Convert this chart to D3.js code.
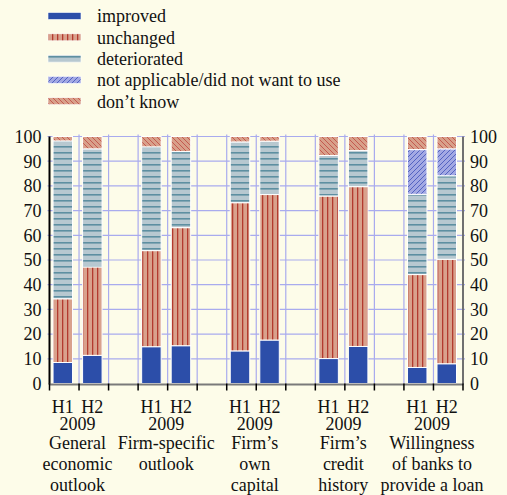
<!DOCTYPE html>
<html><head><meta charset="utf-8">
<script src="https://cdn.jsdelivr.net/npm/d3@7"></script>
<style>
html,body{margin:0;padding:0;background:#fdfce9;}
svg{display:block;font-family:"Liberation Serif","Times New Roman",serif;}
</style></head>
<body><svg id="chart" width="507" height="495"></svg>
<script>
// ---- data ----
const categories = [
  ["General","economic","outlook"],
  ["Firm-specific","outlook"],
  ["Firm’s","own","capital"],
  ["Firm’s","credit","history"],
  ["Willingness","of banks to","provide a loan"]
];
const periods = ["H1","H2"];
const yearLabel = "2009";
const seriesNames = ["improved","unchanged","deteriorated","not applicable/did not want to use","don’t know"];
const improved      = [8.5, 11.4, 14.9, 15.3, 13.2, 17.6, 10.1, 15.0, 6.5, 8.0];
const unchanged     = [25.8, 35.8, 38.9, 47.8, 60.0, 58.9, 65.8, 64.7, 37.6, 42.3];
const deteriorated  = [63.9, 47.8, 42.0, 30.8, 24.6, 21.6, 16.4, 14.6, 32.5, 33.8];
const notApplicable = [0, 0, 0, 0, 0, 0, 0, 0, 18.1, 10.9];
const dontKnow      = [1.8, 5.0, 4.2, 6.1, 2.2, 1.9, 7.7, 5.7, 5.3, 5.0];
const yTicks = [0,10,20,30,40,50,60,70,80,90,100];

// ---- build table ----
const keys = ["improved","unchanged","deteriorated","na","dk"];
const rows = improved.map((v,i)=>({
  g: Math.floor(i/2), p: i%2, slot: Math.floor(i/2)*3 + (i%2),
  improved: v, unchanged: unchanged[i], deteriorated: deteriorated[i],
  na: notApplicable[i], dk: dontKnow[i]
}));
const stacked = d3.stack().keys(keys)(rows);

const svg = d3.select("#chart");
const defs = svg.append("defs");
const fills = {};
function pat(id, w, h, bg, draw){
  const p = defs.append("pattern").attr("id",id).attr("patternUnits","userSpaceOnUse")
    .attr("width",w).attr("height",h);
  p.append("rect").attr("width",w).attr("height",h).attr("fill",bg);
  draw(p);
  return `url(#${id})`;
}
fills.improved = "#2c4ea9";
fills.unchanged = pat("pU",5,5,"#d9a18c",p=>p.append("rect").attr("x",2).attr("y",0).attr("width",1.3).attr("height",5).attr("fill","#b33a2e"));
fills.deteriorated = pat("pD",6,6,"#b7c8d0",p=>p.append("rect").attr("x",0).attr("y",2).attr("width",6).attr("height",1.6).attr("fill","#5d8fa1"));
fills.na = pat("pN",5,5,"#a3a9e3",p=>{
  p.append("path").attr("d","M-1,6 L6,-1 M-1,1 L1,-1 M4,6 L6,4").attr("stroke","#4a5bbd").attr("stroke-width",0.9);
});
fills.dk = pat("pK",5,5,"#d8a08a",p=>{
  p.append("path").attr("d","M-1,-1 L6,6 M-1,4 L1,6 M4,-1 L6,1").attr("stroke","#c2524a").attr("stroke-width",0.9);
});

// ---- scales ----
const x = d3.scaleBand().domain(d3.range(14)).range([49.5,463]).padding(0);
const bw = x.bandwidth();
const y = d3.scaleLinear().domain([0,100]).range([383.5,136.5]);
const gridColor = "#a9abee";

// horizontal gridlines
svg.append("g").selectAll("line").data(yTicks.slice(1)).join("line")
  .attr("x1",x.range()[0]-2).attr("x2",x.range()[1]+2)
  .attr("y1",d=>y(d)).attr("y2",d=>y(d))
  .attr("stroke",gridColor).attr("stroke-width",1.2);
// vertical gridlines
svg.append("g").selectAll("line").data(d3.range(1,14)).join("line")
  .attr("x1",d=>x(d)).attr("x2",d=>x(d))
  .attr("y1",y(100)-2).attr("y2",y(0))
  .attr("stroke",gridColor).attr("stroke-width",1.2);

// bars
const barOff = bw*0.12, barW = bw*0.66;
stacked.forEach(layer=>{
  svg.append("g").selectAll("rect").data(layer.filter(d=>d[1]-d[0]>0)).join("rect")
    .attr("x",d=>x(d.data.slot)+barOff)
    .attr("width",barW)
    .attr("y",d=>y(d[1]))
    .attr("height",d=>y(d[0])-y(d[1]))
    .attr("fill",fills[layer.key])
    .attr("stroke","#fff").attr("stroke-width",1);
});

// left axis
svg.append("line").attr("x1",x.range()[0]).attr("x2",x.range()[0])
  .attr("y1",y(100)).attr("y2",y(0)+1).attr("stroke","#000").attr("stroke-width",2);
// right axis
svg.append("line").attr("x1",x.range()[1]).attr("x2",x.range()[1])
  .attr("y1",y(100)).attr("y2",y(0)+1).attr("stroke","#707070").attr("stroke-width",2);
// bottom axis
svg.append("line").attr("x1",x.range()[0]).attr("x2",x.range()[1])
  .attr("y1",y(0)+1).attr("y2",y(0)+1).attr("stroke","#7a7a7a").attr("stroke-width",2);
svg.append("g").selectAll("line").data(d3.range(0,15)).join("line")
  .attr("x1",d=>x.range()[0]+d*bw).attr("x2",d=>x.range()[0]+d*bw)
  .attr("y1",y(0)).attr("y2",y(0)+7).attr("stroke","#000").attr("stroke-width",1.5);

// y tick labels
svg.append("g").selectAll("text").data(yTicks).join("text")
  .attr("x",x.range()[0]-8).attr("y",d=>y(d)).attr("dy","0.35em")
  .attr("text-anchor","end").attr("font-size",18).attr("fill","#111").text(d=>d);
svg.append("g").selectAll("text").data(yTicks).join("text")
  .attr("x",x.range()[1]+7).attr("y",d=>y(d)).attr("dy","0.35em")
  .attr("text-anchor","start").attr("font-size",18).attr("fill","#111").text(d=>d);

// x labels
svg.append("g").selectAll("text").data(rows).join("text")
  .attr("x",d=>x(d.slot)+barOff+barW/2).attr("y",412.5)
  .attr("text-anchor","middle").attr("font-size",18).attr("fill","#111")
  .text(d=>periods[d.p]);
const gc = g => (x(g*3)+barOff+barW/2 + x(g*3+1)+barOff+barW/2)/2;
categories.forEach((lines,g)=>{
  const t = svg.append("text").attr("text-anchor","middle").attr("font-size",18).attr("fill","#111");
  t.append("tspan").attr("x",gc(g)).attr("y",429.5).text(yearLabel);
  lines.forEach((l,i)=>t.append("tspan").attr("x",gc(g)).attr("y",449+i*20.8).text(l));
});

// legend
const legFills = [fills.improved, fills.unchanged, fills.deteriorated, fills.na, fills.dk];
const leg = svg.append("g");
seriesNames.forEach((n,i)=>{
  const cy = 16 + i*21.3;
  leg.append("rect").attr("x",48).attr("y",cy-3.5).attr("width",33).attr("height",7)
    .attr("fill",legFills[i]).attr("stroke","#fff").attr("stroke-width",0.6);
  leg.append("text").attr("x",97).attr("y",cy).attr("dy","0.35em")
    .attr("font-size",18).attr("fill","#111").text(n);
});
</script></body></html>
